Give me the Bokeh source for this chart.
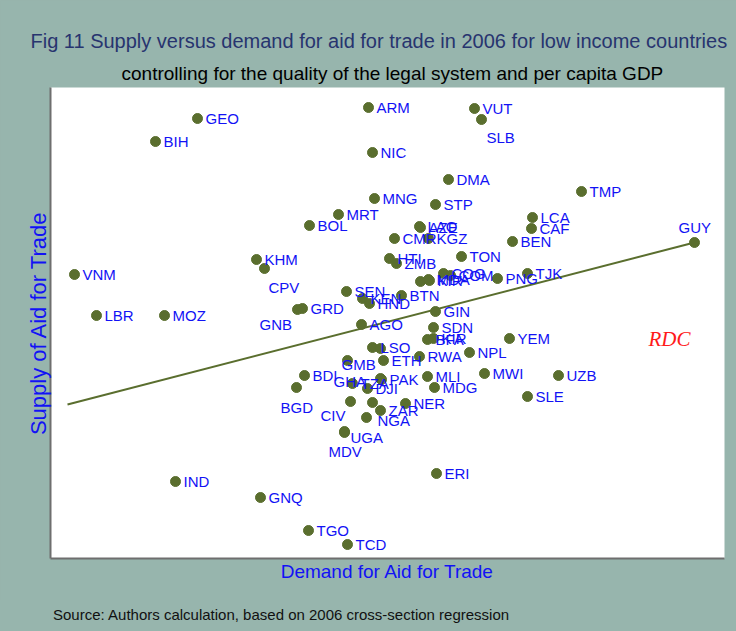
from bokeh.plotting import figure
from bokeh.models import ColumnDataSource, Range1d, Label, FixedTicker, Title, Div
from bokeh.layouts import column
from bokeh.embed import file_html
from bokeh.resources import INLINE

# ---- data (demand = x, supply = y, arbitrary units) ----
countries = ["GEO", "BIH", "ARM", "VUT", "SLB", "NIC", "DMA", "TMP", "MNG", "STP",
             "MRT", "BOL", "LCA", "CAF", "LAO", "AZE", "CMR", "KGZ", "BEN", "GUY",
             "TON", "HTI", "ZMB", "KHM", "CPV", "VNM", "TJK", "PNG", "COG", "COM",
             "", "MDA", "KIR", "SEN", "KEN", "HND", "BTN", "GNB", "GRD", "LBR",
             "MOZ", "GIN", "AGO", "SDN", "BFA", "KIR", "YEM", "LSO", "", "NPL",
             "RWA", "ETH", "GMB", "BDI", "BGD", "TZA", "GHA", "PAK", "DJI", "MLI",
             "MDG", "MWI", "UZB", "CIV", "", "ZAR", "NER", "NGA", "UGA", "MDV",
             "SLE", "ERI", "IND", "GNQ", "TGO", "TCD"]
demand = [147, 105, 318, 424, 431, 322, 398, 531, 324, 385,
          288, 259, 482, 481, 369, 370, 344, 378, 462, 644,
          411, 339, 346, 206, 214, 24, 477, 447, 393, 400,
          370, 378, 379, 296, 312, 319, 351, 247, 252, 46,
          114, 385, 311, 383, 377, 383, 459, 322, 330, 419,
          369, 333, 297, 254, 246, 302, 330, 331, 317, 377,
          384, 434, 508, 300, 322, 330, 355, 316, 294, 294,
          477, 386, 125, 210, 258, 297]
supply = [440, 417, 451, 450, 439, 406, 379, 367, 360, 354,
          344, 333, 341, 330, 332, 331, 320, 320, 317, 316,
          302, 300, 295, 299, 290, 284, 285, 280, 285, 283,
          277, 279, 278, 267, 260, 255, 263, 249, 250, 243,
          243, 247, 234, 231, 219, 220, 220, 211, 210, 206,
          202, 198, 198, 183, 171, 175, 180, 179, 170, 182,
          171, 185, 183, 157, 156, 148, 155, 141, 127, 126,
          162, 85, 77, 61, 28, 14]
fit_x = [17, 644]
fit_y = [154, 316]

title_text = "Fig 11 Supply versus demand for aid for trade in 2006 for low income countries"
subtitle_text = "controlling for the quality of the legal system and per capita GDP"
source_text = "Source: Authors calculation, based on 2006 cross-section regression"
x_label = "Demand for Aid for Trade"
y_label = "Supply of Aid for Trade"

# ---- label placement tweaks (screen px offsets) ----
label_tweaks = {
    "SLB": (5, 18), "GUY": (-16, -15), "CPV": (4, 19), "GNB": (-38, 15),
    "GMB": (-6, 4), "BGD": (-16, 20), "GHA": (-47, 3), "CIV": (-30, 14),
    "UGA": (6, 6), "MDV": (-16, 19), "NGA": (11, 3),
}
dx = [label_tweaks.get(c, (8, 0))[0] for c in countries]
dy = [label_tweaks.get(c, (8, 0))[1] for c in countries]

TEAL = "#97b5ad"
OLIVE = "#5a6e2e"
BLUE = "#1212f5"
FONT = "Liberation Sans"

p = figure(width=736, height=600, output_backend="svg", toolbar_location=None,
           x_range=Range1d(0, 674), y_range=Range1d(0, 471),
           min_border_left=50, min_border_right=12, min_border_top=87, min_border_bottom=42)
p.border_fill_color = TEAL
p.background_fill_color = "white"
p.outline_line_color = None
p.grid.visible = False

for ax in (p.xaxis[0], p.yaxis[0]):
    ax.ticker = FixedTicker(ticks=[])
    ax.major_tick_line_color = None
    ax.minor_tick_line_color = None
    ax.major_label_text_font_size = "0px"
    ax.axis_line_color = "#6e6e6e"
    ax.axis_line_width = 2
    ax.axis_label_text_font = FONT
    ax.axis_label_text_font_style = "normal"
    ax.axis_label_text_color = BLUE
p.xaxis.axis_label = x_label
p.yaxis.axis_label = y_label
p.xaxis.axis_label_text_font_size = "19px"
p.yaxis.axis_label_text_font_size = "22px"
p.xaxis.axis_label_standoff = 2
p.yaxis.axis_label_standoff = 0

src = ColumnDataSource(dict(x=demand, y=supply, name=countries, dx=dx, dy=dy))
p.line(fit_x, fit_y, line_color=OLIVE, line_width=2)
p.scatter("x", "y", source=src, size=10, fill_color=OLIVE, line_color=OLIVE)
p.text("x", "y", text="name", source=src, x_offset="dx", y_offset="dy",
       text_font_size="15px", text_color=BLUE, text_baseline="middle",
       text_align="left", text_font={"value": FONT})

p.add_layout(Title(text=subtitle_text, text_font=FONT, text_font_size="19px",
                   text_font_style="normal", text_color="black", align="left",
                   offset=71, standoff=7), "above")
p.add_layout(Title(text=title_text, text_font=FONT, text_font_size="20px",
                   text_font_style="normal", text_color="#27346f", align="left",
                   offset=-20, standoff=11), "above")
p.add_layout(Label(x=598, y=220, text="RDC", text_font="Liberation Serif", text_font_size="21px",
                   text_font_style="italic", text_color="#ff1a1a", text_baseline="alphabetic"))

source_div = Div(text=source_text, width=683, height=22, margin=(6, 0, 0, 53),
                 styles={"font-family": FONT, "font-size": "15px", "color": "#111111",
                         "line-height": "18px"})

layout = column(p, source_div, spacing=0)

try:
    from bokeh.models import GlobalInlineStyleSheet
    layout.stylesheets = [GlobalInlineStyleSheet(css="body { background: %s; margin: 0; }" % TEAL)]
except Exception:
    pass

open("out.html", "w").write(file_html(layout, INLINE))
